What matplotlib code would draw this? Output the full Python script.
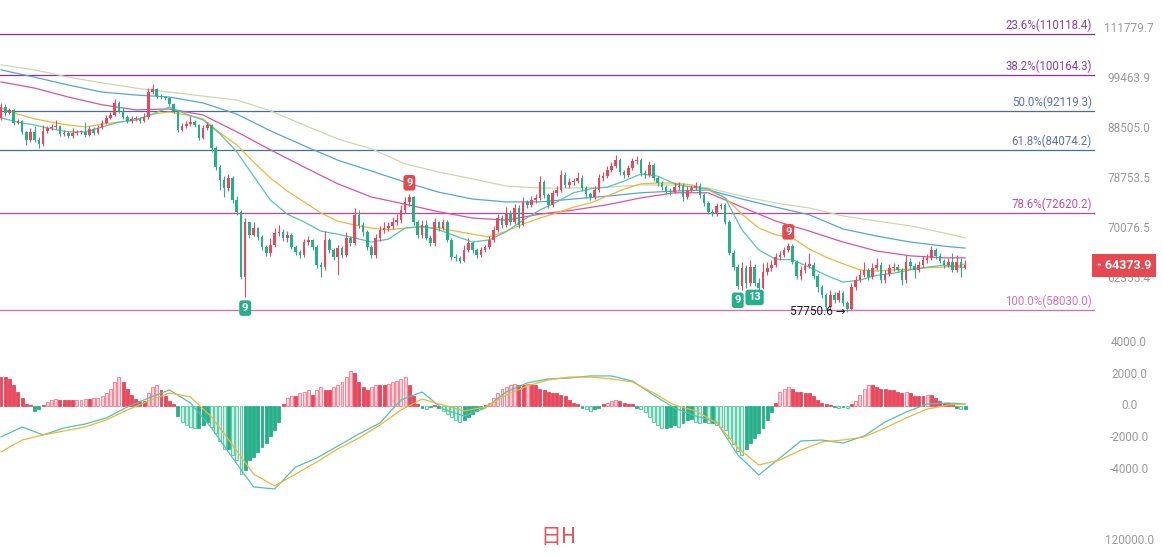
import numpy as np
import matplotlib.pyplot as plt
from matplotlib import transforms

plt.rcParams['font.family'] = ['Roboto', 'DejaVu Sans']

# daily candles, prices in thousand USD; each open is the previous close
first_open = 90.67
close_k = [
    93.0, 91.7, 92.4, 89.6, 90.0, 87.8, 86.2, 87.8, 86.2, 85.4,
    88.0, 88.6, 88.8, 89.0, 87.4, 87.6, 87.0, 87.6, 87.8, 87.8,
    87.2, 88.4, 87.6, 88.6, 89.6, 90.7, 91.3, 93.9, 92.2, 90.9,
    90.0, 90.5, 90.5, 90.0, 90.9, 96.3, 97.0, 95.4, 95.2, 95.0,
    93.7, 92.2, 88.2, 89.0, 89.4, 89.8, 89.2, 86.6, 88.6, 89.2,
    84.6, 80.9, 78.5, 77.0, 78.9, 74.9, 72.9, 62.6, 71.2, 69.1,
    70.2, 68.8, 67.2, 66.2, 67.5, 69.4, 69.6, 68.6, 69.1, 67.2,
    66.4, 65.9, 67.9, 68.3, 67.2, 64.4, 64.1, 68.3, 66.7, 65.6,
    67.0, 65.9, 68.6, 67.8, 72.4, 70.7, 69.6, 67.2, 65.9, 68.6,
    69.9, 70.2, 70.5, 71.2, 71.5, 73.2, 74.6, 75.5, 71.2, 69.1,
    70.7, 68.6, 67.8, 71.2, 70.2, 71.2, 68.3, 65.6, 65.5, 65.0,
    66.7, 67.8, 66.7, 65.9, 66.7, 67.2, 68.3, 69.9, 71.9, 70.7,
    72.7, 71.2, 73.5, 70.7, 74.6, 74.1, 74.9, 75.3, 78.1, 75.8,
    74.1, 76.2, 76.7, 79.4, 77.6, 78.1, 78.3, 78.9, 77.0, 76.0,
    75.5, 76.7, 78.9, 79.2, 80.3, 81.1, 82.2, 80.0, 79.4, 80.7,
    82.0, 82.2, 79.8, 79.4, 81.3, 78.9, 77.9, 77.2, 76.5, 76.3,
    77.2, 77.4, 75.5, 76.7, 77.0, 77.4, 75.8, 74.4, 72.9, 72.5,
    73.9, 74.1, 71.2, 66.2, 64.1, 61.3, 63.9, 61.8, 64.1, 61.8,
    61.1, 63.4, 63.9, 64.4, 65.6, 65.9, 66.7, 67.3, 64.9, 62.8,
    63.7, 64.3, 64.4, 62.8, 61.2, 60.1, 58.4, 60.1, 59.4, 60.4,
    59.0, 58.2, 61.2, 62.2, 62.9, 63.7, 62.6, 64.0, 64.4, 62.2,
    63.1, 64.0, 64.1, 63.7, 62.2, 64.9, 64.3, 63.7, 64.4, 65.2,
    65.5, 66.7, 65.8, 65.0, 64.4, 64.9, 63.7, 64.9, 64.0, 64.3739,
]
high_k = [
    93.9, 93.7, 92.8, 92.6, 90.5, 90.2, 88.0, 88.6, 89.0, 86.8,
    89.2, 89.0, 89.4, 90.2, 89.2, 88.2, 88.0, 88.6, 88.2, 88.2,
    89.8, 89.0, 88.8, 89.2, 90.2, 91.3, 91.9, 94.8, 94.3, 92.8,
    91.3, 91.1, 91.1, 90.9, 91.7, 97.2, 98.1, 97.2, 95.9, 95.4,
    95.2, 93.9, 92.4, 89.6, 90.0, 91.1, 90.2, 89.4, 89.2, 89.8,
    89.4, 85.0, 81.3, 79.2, 79.6, 79.2, 75.6, 73.2, 71.9, 71.2,
    71.2, 70.4, 69.1, 67.5, 68.6, 70.2, 70.7, 70.0, 69.7, 69.4,
    67.5, 66.7, 68.4, 68.9, 68.4, 67.5, 64.9, 69.7, 68.6, 67.0,
    67.5, 67.3, 69.6, 68.9, 73.5, 73.2, 71.2, 69.9, 67.5, 69.2,
    70.5, 71.2, 71.2, 72.0, 72.5, 74.1, 75.5, 76.0, 75.7, 71.5,
    71.5, 71.5, 69.1, 71.9, 71.4, 71.7, 71.5, 68.6, 66.1, 65.8,
    67.5, 68.6, 68.1, 67.0, 67.2, 67.5, 68.9, 70.5, 72.5, 72.4,
    73.7, 73.2, 74.2, 74.1, 75.5, 74.9, 75.6, 75.9, 79.2, 78.5,
    76.2, 76.7, 77.4, 80.3, 80.0, 78.9, 78.9, 80.0, 79.4, 77.4,
    76.3, 77.4, 79.6, 80.0, 81.1, 81.9, 83.2, 82.6, 80.3, 81.3,
    82.6, 83.0, 82.6, 80.3, 82.0, 81.7, 79.2, 78.3, 77.6, 77.0,
    77.9, 78.1, 77.9, 77.4, 77.6, 78.1, 77.9, 76.2, 74.8, 73.4,
    74.4, 74.4, 74.4, 71.5, 66.7, 64.6, 64.9, 64.4, 65.2, 64.6,
    62.5, 64.7, 64.9, 65.2, 66.2, 66.5, 67.2, 67.8, 67.6, 65.2,
    64.3, 64.9, 66.2, 64.9, 63.1, 61.5, 60.4, 60.8, 60.5, 60.8,
    60.6, 59.2, 61.8, 62.8, 63.7, 64.9, 64.0, 64.7, 65.5, 64.9,
    63.7, 64.6, 64.7, 64.6, 64.0, 65.9, 65.5, 64.7, 65.0, 65.8,
    66.1, 67.3, 67.0, 66.2, 65.3, 65.5, 66.2, 65.9, 65.5, 65.2,
]
low_k = [
    90.2, 91.1, 91.5, 89.2, 89.4, 87.4, 85.2, 85.8, 85.8, 84.6,
    85.0, 87.6, 88.2, 88.4, 87.0, 87.0, 86.6, 86.6, 87.2, 87.4,
    86.8, 87.0, 87.2, 87.4, 88.4, 89.4, 90.5, 91.1, 91.7, 90.5,
    89.6, 89.6, 90.0, 89.6, 89.8, 90.5, 95.9, 95.0, 94.8, 94.6,
    93.2, 91.7, 87.8, 88.0, 88.6, 89.0, 88.8, 86.2, 86.4, 88.2,
    83.8, 80.3, 76.7, 75.5, 76.5, 74.4, 72.4, 62.4, 59.8, 68.6,
    68.9, 68.3, 66.7, 65.8, 65.8, 67.2, 68.9, 68.1, 68.0, 66.9,
    65.9, 65.5, 65.6, 67.5, 66.7, 64.0, 62.6, 63.7, 66.2, 65.2,
    62.9, 65.5, 65.6, 67.3, 67.5, 70.2, 68.9, 66.7, 65.5, 65.5,
    68.1, 69.4, 69.7, 70.0, 70.7, 71.0, 72.7, 73.9, 70.7, 68.6,
    68.6, 68.3, 67.3, 67.3, 69.7, 69.9, 68.0, 65.2, 65.0, 64.7,
    64.9, 66.4, 66.2, 65.5, 65.6, 66.4, 66.9, 68.0, 69.6, 70.2,
    70.4, 70.7, 70.9, 70.2, 70.5, 73.5, 73.7, 74.4, 74.9, 75.3,
    73.5, 73.7, 75.6, 76.4, 77.0, 77.0, 77.6, 77.9, 76.5, 75.3,
    74.9, 75.1, 76.3, 78.3, 78.9, 80.0, 80.7, 79.4, 78.9, 79.0,
    80.3, 81.5, 79.2, 78.9, 79.0, 78.3, 77.4, 76.7, 76.0, 75.8,
    76.2, 76.7, 74.8, 75.1, 76.3, 76.7, 75.3, 73.9, 72.5, 72.2,
    72.2, 73.4, 70.9, 65.9, 63.7, 60.9, 60.8, 61.1, 61.3, 61.3,
    60.8, 60.9, 62.9, 63.5, 64.1, 65.2, 65.6, 66.4, 64.6, 62.4,
    62.2, 63.2, 64.0, 62.4, 60.5, 59.7, 58.0, 58.2, 59.0, 59.1,
    58.6, 57.7506, 58.0, 60.8, 61.9, 62.6, 62.2, 62.4, 63.7, 61.8,
    61.8, 62.8, 63.5, 63.4, 61.5, 61.8, 63.8, 62.5, 63.4, 64.1,
    64.7, 65.2, 65.3, 64.7, 64.0, 64.1, 63.4, 63.4, 62.6, 63.8,
]

# moving averages (thousand USD), read every 4th / 8th day
ma_fast_idx = list(range(0, 229, 4)) + [229]
ma_teal_k = [
    90.7, 89.8, 89.2, 88.4, 87.8, 87.8, 88.8, 89.8, 90.25, 91.5,
    93.0, 91.5, 90.25, 87.4, 83.8, 79.2, 74.9, 72.5, 71.2, 69.7,
    69.2, 68.6, 67.95, 68.4, 70.2, 70.5, 69.9, 68.9, 67.95, 68.3,
    69.6, 71.5, 73.2, 74.6, 76.2, 76.9, 77.2, 78.3, 79.6, 79.2,
    77.8, 77.2, 76.9, 75.3, 69.9, 66.7, 65.3, 65.2, 64.1, 62.9,
    61.9, 62.2, 62.9, 63.2, 63.7, 64.1, 64.4, 64.1, 64.1,
]
ma_orange_k = [
    92.8, 91.5, 90.5, 89.8, 89.2, 88.8, 89.4, 89.8, 90.25, 91.5,
    91.95, 91.3, 90.5, 87.6, 85.2, 81.85, 78.85, 76.5, 74.6, 72.7,
    71.35, 70.7, 70.2, 69.9, 70.2, 70.35, 70.2, 69.7, 69.2, 68.75,
    69.7, 70.85, 71.85, 72.7, 73.7, 74.4, 75.6, 76.85, 77.8, 77.95,
    77.95, 77.6, 76.7, 75.3, 72.5, 70.2, 69.1, 68.6, 66.85, 65.6,
    64.6, 63.7, 63.5, 63.7, 63.8, 64.0, 64.1, 64.4, 64.6,
]
ma_slow_idx = list(range(0, 225, 8)) + [229]
ma_magenta_k = [
    98.6, 97.2, 95.2, 93.5, 92.4, 92.6, 91.3, 87.8, 84.2, 80.9,
    77.8, 75.45, 74.2, 72.9, 71.85, 71.5, 72.5, 73.2, 74.1, 75.3,
    76.2, 76.2, 73.7, 71.35, 69.7, 67.95, 66.55, 65.8, 65.5, 65.5,
]
ma_blue_k = [
    101.4, 99.7, 97.9, 96.3, 95.65, 95.2, 93.9, 91.5, 88.0, 85.0,
    82.2, 80.15, 78.1, 76.3, 75.1, 74.6, 74.6, 75.1, 75.6, 76.2,
    76.5, 76.7, 75.1, 73.7, 72.4, 70.05, 68.9, 67.95, 67.3, 67.0,
]
ma_pale_k = [
    102.6, 101.4, 99.7, 98.4, 97.2, 96.3, 95.4, 94.55, 92.2, 89.2,
    86.35, 84.4, 81.5, 79.95, 78.7, 77.4, 77.05, 77.05, 77.2, 77.6,
    77.6, 77.05, 75.6, 74.4, 73.55, 72.2, 71.35, 70.55, 69.4, 68.6,
]

fib_pct = ['23.6%', '38.2%', '50.0%', '61.8%', '78.6%', '100.0%']
fib_level = [110118.4, 100164.3, 92119.3, 84074.2, 72620.2, 58030.0]
fib_line_col = ['#8f2c9f', '#8f2c9f', '#3f6fa6', '#3f6fa6', '#c4409c', '#d466bb']
fib_text_col = ['#8c3da8', '#8c3da8', '#5b72b6', '#5b72b6', '#c2509e', '#d670bb']

price_ticks = [111779.7, 99463.9, 88505.0, 78753.5, 70076.5, 62355.4]
last_price = 64373.9
low_mark_idx = 201

# TD sequential counts: (day, label, side)
td_marks = [(58, '9', 'low'), (97, '9', 'high'), (175, '9', 'low'),
            (179, '13', 'low'), (187, '9', 'high')]

# MACD
macd_hist = [
    1800, 1800, 1700, 1300, 900, 500, 150, 50, -300, -200,
    50, 250, 400, 450, 400, 400, 380, 350, 380, 400,
    420, 420, 500, 520, 600, 800, 1100, 1500, 1800, 1500,
    1100, 700, 450, 300, 300, 800, 1200, 1300, 1000, 600,
    300, 100, -600, -1000, -1200, -1300, -1400, -1400, -1200, -1000,
    -1300, -1700, -2200, -2700, -2700, -3100, -3400, -4300, -4000, -3400,
    -3200, -2900, -2600, -2300, -1900, -1500, -1000, 100, 500, 600,
    600, 800, 900, 1000, 700, 1000, 1200, 1000, 1000, 1200,
    1300, 1500, 1800, 2200, 2100, 1500, 1200, 1000, 1200, 1300,
    1300, 1300, 1400, 1500, 1600, 1700, 1800, 1300, 600, 100,
    -150, -200, -50, 50, -100, -300, -500, -700, -900, -1000,
    -900, -700, -500, -300, -100, 50, 200, 500, 800, 1100,
    1200, 1300, 1400, 1300, 1300, 1400, 1400, 1300, 1100, 1000,
    900, 800, 800, 700, 600, 400, 200, 100, -100, -200,
    -300, -200, -100, 100, 200, 300, 400, 300, 200, 100,
    100, -100, -200, -400, -700, -1000, -1200, -1400, -1400, -1300,
    -1200, -1300, -1100, -900, -800, -1000, -1100, -1000, -1100, -1100,
    -1200, -1300, -1500, -2000, -2400, -2800, -3100, -2700, -2300, -2000,
    -1700, -1400, -900, -400, 200, 900, 1100, 1200, 1100, 900,
    900, 800, 800, 600, 400, 200, 100, 50, -50, -100,
    -50, -150, 100, 300, 700, 1100, 1300, 1300, 1200, 1100,
    1100, 1000, 1000, 900, 800, 900, 800, 600, 600, 600,
    700, 700, 500, 300, 200, 200, 100, -100, -200, -200,
]
macd_idx = list(range(0, 226, 5)) + [229]
dif = [
    -1950, -1320, -1820, -1380, -1130, -750, -60, 500, 1010, 190,
    -1380, -3270, -5090, -5220, -3840, -3270, -2520, -1760, -1070, 380,
    880, -190, -630, -130, 880, 1450, 1700, 1760, 1890, 1890,
    1570, 690, -130, -630, -1010, -3080, -4340, -3270, -2200, -2140,
    -2330, -1890, -1010, -380, 130, 190, 130,
]
dea = [
    -2890, -2140, -1820, -1570, -1320, -880, -250, 310, 820, 570,
    -690, -2450, -4280, -5030, -4280, -3520, -2700, -2010, -1200, -250,
    440, 60, -310, -60, 690, 1260, 1640, 1820, 1820, 1700,
    1510, 820, 60, -310, -1070, -2640, -3710, -3400, -2770, -2260,
    -2140, -1950, -1380, -750, -190, 60, 130,
]
macd_ticks = [4000, 2000, 0, -2000, -4000]

RED, GREEN = '#e8475c', '#26b08a'

W, H = 1163, 556
fig = plt.figure(figsize=(W / 100, H / 100), dpi=100)
fig.patch.set_facecolor('white')

ax = fig.add_axes([0, 1 - 325 / H, 1095 / W, 325 / H])
ax.set_yscale('log')
ax.set_ylim(56028, 119301)
ax.set_xlim(-0.24, 259.86)
ax.set_axis_off()

n = len(close_k)
x = np.arange(n)
c = np.array(close_k) * 1000
o = np.r_[first_open, close_k[:-1]] * 1000
hi = np.maximum(np.array(high_k) * 1000, np.maximum(o, c))
lo = np.minimum(np.array(low_k) * 1000, np.minimum(o, c))
up = c >= o
col = np.where(up, RED, GREEN)

# fib retracement lines
for pct, lev, lc, tc in zip(fib_pct, fib_level, fib_line_col, fib_text_col):
    ax.axhline(lev, color=lc, lw=0.9, zorder=1)
    ax.annotate(f'{pct}({lev:.1f})', xy=(1092 / 1095, lev),
                xycoords=('axes fraction', 'data'), xytext=(0, 1.5),
                textcoords='offset points', ha='right', va='bottom',
                color=tc, fontsize=8.3)

# moving averages
ax.plot(ma_slow_idx, np.array(ma_pale_k) * 1000, color='#c9d9ab', lw=0.9, zorder=2)
ax.plot(ma_slow_idx, np.array(ma_blue_k) * 1000, color='#55a6d6', lw=0.9, zorder=2)
ax.plot(ma_slow_idx, np.array(ma_magenta_k) * 1000, color='#d9559f', lw=0.9, zorder=2)
ax.plot(ma_fast_idx, np.array(ma_orange_k) * 1000, color='#f2b53c', lw=0.9, zorder=2)
ax.plot(ma_fast_idx, np.array(ma_teal_k) * 1000, color='#55c6b0', lw=0.9, zorder=2)

# candles
bottom = np.minimum(o, c)
height = np.maximum(np.abs(c - o), bottom * 0.003)
ax.vlines(x, lo, hi, colors=col, lw=0.8, zorder=3)
ax.bar(x, height, bottom=bottom, width=0.62, color=col, linewidth=0, zorder=4)

# TD count labels
for i, lab, side in td_marks:
    if side == 'low':
        y, dy, fc = lo[i], -8, GREEN
    else:
        y, dy, fc = hi[i], 8, '#e5484d'
    ax.annotate(lab, xy=(i, y), xytext=(0, dy), textcoords='offset points',
                ha='center', va='center', color='white', fontsize=8,
                fontweight='bold', zorder=6,
                bbox=dict(boxstyle='round,pad=0.25', fc=fc, ec='none'))

ax.annotate(f'{lo[low_mark_idx]:.1f} →', xy=(low_mark_idx, lo[low_mark_idx]),
            xytext=(-1, 0), textcoords='offset points', ha='right',
            va='center', fontsize=8.5, color='#222222', zorder=6)

# right price scale
tr = transforms.blended_transform_factory(fig.transFigure, ax.transData)
for v in price_ticks:
    ax.text(1129 / W, v, f'{v:.1f}', transform=tr, ha='center', va='center',
            color='#9a9a9a', fontsize=8.5, clip_on=False)
ax.text(1097 / W, last_price, f'- {last_price:.1f}', transform=tr, ha='left',
        va='center', color='white', fontsize=9, fontweight='bold', zorder=10,
        clip_on=False,
        bbox=dict(boxstyle='square,pad=0.4', fc='#e8474f', ec='none'))

# MACD panel
ax2 = fig.add_axes([0, 1 - 500 / H, 1095 / W, 170 / H])
ax2.set_ylim(-5913, 4780)
ax2.set_xlim(-0.24, 259.86)
ax2.set_axis_off()

h = np.array(macd_hist, dtype=float)
prev = np.r_[0.0, h[:-1]]
growing = np.abs(h) > np.abs(prev)
for i in range(n):
    pos = h[i] >= 0
    if growing[i] and np.sign(h[i]) == np.sign(prev[i]):
        fc = '#fbd0d7' if pos else '#c8efe2'
        ec = '#f07a8e' if pos else '#4cc6a0'
    else:
        fc = ec = RED if pos else GREEN
    ax2.bar(i, h[i], width=0.7, color=fc, edgecolor=ec, linewidth=0.6, zorder=2)

ax2.plot(macd_idx, dif, color='#4fc4b0', lw=0.9, zorder=3)
ax2.plot(macd_idx, dea, color='#f0b43c', lw=0.9, zorder=3)

tr2 = transforms.blended_transform_factory(fig.transFigure, ax2.transData)
for v in macd_ticks:
    ax2.text(1129 / W, v, f'{v:.1f}', transform=tr2, ha='center', va='center',
             color='#9a9a9a', fontsize=8.5, clip_on=False)

fig.text(1129 / W, 1 - 540 / H, '120000.0', ha='center', va='center',
         color='#9a9a9a', fontsize=8.5)
fig.text(558 / W, 1 - 537 / H, '日H', ha='center', va='center',
         color='#e8505f', fontsize=15,
         family=['Noto Sans CJK SC', 'DejaVu Sans'])

fig.savefig('out.png', dpi=100)
